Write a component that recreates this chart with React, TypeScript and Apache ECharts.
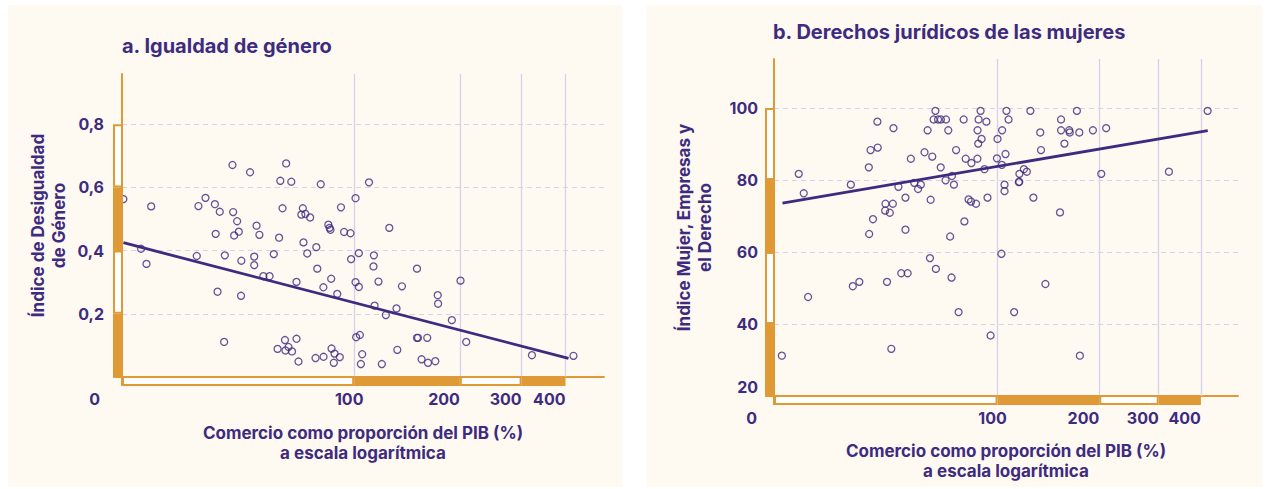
import React, { useEffect, useRef } from "react";
import * as echarts from "echarts";

const PURPLE = "#3D2B80";
const ORANGE = "#E09A35";
const CREAM = "#FEF9F1";
const GRIDC = "#D5D2EB";
const FONT = "Inter, 'Noto Sans', sans-serif";

const X_MIN = 21.8;
const X_MAX = 515;
const xTickValues = [100, 200, 300, 400];
const xTickLabels = ["100", "200", "300", "400"];
const leftYTicks = [0, 0.2, 0.4, 0.6, 0.8];
const rightYTicks = [20, 40, 60, 80, 100];
const leftYMax = 0.959;
const rightYMax = 113.6;

const leftTitle = "a. Igualdad de género";
const rightTitle = "b. Derechos jurídicos de las mujeres";
const leftYName = "Índice de Desigualdad\nde Género";
const rightYName = "Índice Mujer, Empresas y\nel Derecho";
const xName = "Comercio como proporción del PIB (%)\na escala logarítmica";
const originLabel = "0";

// [comercio % PIB, índice de desigualdad de género]
const leftPoints = [
  [22.0, 0.563], [26.4, 0.54], [24.7, 0.406], [25.6, 0.358], [45.0, 0.671],
  [50.5, 0.648], [64.0, 0.676], [61.6, 0.621], [66.2, 0.618], [80.3, 0.61],
  [37.7, 0.567], [36.0, 0.541], [40.1, 0.547], [41.4, 0.523], [45.2, 0.522],
  [46.4, 0.493], [40.3, 0.453], [45.5, 0.448], [46.9, 0.46], [52.7, 0.479],
  [53.7, 0.45], [61.1, 0.441], [62.5, 0.534], [71.4, 0.534], [70.7, 0.514],
  [72.6, 0.516], [74.9, 0.505], [91.7, 0.537], [100.9, 0.566], [84.4, 0.482],
  [85.1, 0.472], [85.6, 0.466], [93.6, 0.459], [97.6, 0.455], [71.7, 0.426],
  [78.0, 0.411], [35.6, 0.383], [42.8, 0.385], [47.7, 0.368], [51.9, 0.381],
  [51.9, 0.354], [59.0, 0.389], [73.5, 0.391], [98.0, 0.373], [103.1, 0.392],
  [55.1, 0.319], [57.4, 0.319], [68.5, 0.301], [78.5, 0.343], [86.0, 0.311],
  [81.7, 0.284], [89.5, 0.263], [100.9, 0.3], [103.1, 0.285], [40.8, 0.27],
  [47.6, 0.257], [42.6, 0.111], [63.5, 0.117], [68.5, 0.121], [60.5, 0.089],
  [63.7, 0.084], [65.0, 0.095], [66.5, 0.081], [69.4, 0.049], [77.6, 0.06],
  [81.8, 0.064], [86.2, 0.09], [87.9, 0.074], [91.0, 0.063], [87.5, 0.045],
  [101.3, 0.126], [103.8, 0.133], [105.4, 0.072], [104.5, 0.041], [110.2, 0.616],
  [125.9, 0.472], [113.8, 0.385], [113.5, 0.35], [151.0, 0.343], [117.3, 0.302],
  [136.8, 0.287], [200.9, 0.305], [173.0, 0.259], [173.4, 0.232], [114.3, 0.226],
  [132.0, 0.217], [123.1, 0.196], [189.8, 0.18], [151.0, 0.124], [152.0, 0.124],
  [161.5, 0.124], [208.6, 0.111], [132.7, 0.086], [119.9, 0.041], [155.6, 0.056],
  [162.3, 0.045], [170.3, 0.05], [321, 0.069], [421.5, 0.067],
];

// [comercio % PIB, índice Mujer, Empresas y el Derecho]
const rightPoints = [
  [23.0, 31.2], [25.8, 81.7], [26.7, 76.3], [27.5, 47.5], [36.8, 78.7],
  [37.3, 50.5], [39.0, 51.7], [41.6, 83.5], [42.1, 88.3], [44.2, 89.0],
  [44.1, 96.2], [41.7, 65.0], [42.8, 69.1], [46.6, 73.4], [46.5, 71.5],
  [48.0, 70.9], [49.0, 73.4], [47.1, 51.7], [48.5, 33.1], [49.2, 94.4],
  [50.9, 78.1], [53.4, 75.1], [53.4, 66.2], [51.9, 54.1], [54.2, 54.1],
  [55.4, 85.9], [56.7, 79.2], [58.2, 77.5], [59.3, 78.7], [60.8, 87.7],
  [62.1, 93.8], [64.1, 86.5], [63.4, 74.5], [63.1, 58.3], [65.7, 55.3],
  [65.5, 99.2], [64.7, 96.8], [66.7, 96.8], [68.0, 96.8], [70.4, 96.8],
  [67.9, 83.5], [70.2, 79.9], [71.5, 93.8], [73.3, 81.1], [74.3, 78.7],
  [72.4, 64.3], [73.1, 52.9], [76.7, 43.3], [75.4, 88.3], [79.4, 96.8],
  [80.5, 85.9], [83.7, 84.7], [87.2, 85.9], [82.1, 74.6], [83.5, 74.0],
  [86.4, 73.4], [79.8, 68.5], [89.1, 99.2], [87.9, 96.8], [92.7, 96.2],
  [87.3, 93.8], [89.7, 91.4], [87.7, 90.1], [91.5, 83.0], [93.4, 75.1],
  [95.4, 36.8], [99.6, 86.0], [100, 91.4], [102.7, 59.5], [103.2, 93.8],
  [106.3, 99.2], [107.8, 96.8], [105.6, 87.2], [103.0, 84.2], [104.9, 78.7],
  [104.9, 76.9], [125.1, 99.2], [133.8, 93.2], [134.5, 88.3], [116.1, 81.7],
  [119.7, 83.0], [122.1, 82.3], [115.6, 79.4], [116.0, 79.5], [127.7, 75.1],
  [153.1, 71.0], [112.0, 43.3], [138.6, 51.1], [175.3, 31.2], [154.2, 96.8],
  [154.2, 93.8], [157.8, 90.1], [163.0, 93.8], [163.6, 93.2], [171.8, 99.2],
  [174.6, 93.2], [191.6, 93.8], [209.7, 94.4], [202.8, 81.7], [321.6, 82.3],
  [418.7, 99.2],
];

// fitted trend lines (end points)
const leftTrend = [[22, 0.425], [408, 0.059]];
const rightTrend = [[23.1, 73.6], [419, 93.7]];

export default function App() {
  const ref = useRef<HTMLDivElement>(null);

  useEffect(() => {
    document.body.style.margin = "0";
    const chart = echarts.init(ref.current!, null, { renderer: "svg" });

    const panels = [
      {
        title: leftTitle, titleLeft: 122, titleTop: 36,
        grid: { left: 122, top: 74, width: 482, height: 303 },
        yTicks: leftYTicks, yMax: leftYMax, yName: leftYName, yNameGap: 53,
        labelMargin: 18, zeroDx: 22, xNameGap: 46,
        points: leftPoints, trend: leftTrend,
        fmt: (v: number) => v.toFixed(1).replace(".", ","),
      },
      {
        title: rightTitle, titleLeft: 773, titleTop: 22,
        grid: { left: 774, top: 59, width: 464, height: 337 },
        yTicks: rightYTicks, yMax: rightYMax, yName: rightYName, yNameGap: 59,
        labelMargin: 16, zeroDx: 17, xNameGap: 45,
        points: rightPoints, trend: rightTrend,
        fmt: (v: number) => (v === 20 ? "{low|20}" : String(v)),
      },
    ];

    const txt = (size: number, weight: number = 700) => ({
      color: PURPLE, fontSize: size, fontWeight: weight, fontFamily: FONT,
    });

    const option: any = {
      animation: false,
      textStyle: { fontFamily: FONT },
      title: panels.map((p) => ({
        text: p.title, left: p.titleLeft, top: p.titleTop, padding: 0,
        textStyle: txt(20),
      })),
      grid: panels.map((p) => ({ ...p.grid, containLabel: false })),
      xAxis: panels.map((p, i) => ({
        type: "log", logBase: 10, gridIndex: i, min: X_MIN, max: X_MAX,
        axisLine: { show: true, onZero: false, lineStyle: { color: ORANGE, width: 2 } },
        axisTick: { show: false }, axisLabel: { show: false }, splitLine: { show: false },
        name: xName, nameLocation: "middle", nameGap: p.xNameGap,
        nameTextStyle: { ...txt(17), lineHeight: 20 },
      })),
      yAxis: panels.map((p, i) => ({
        type: "value", gridIndex: i, min: p.yTicks[0], max: p.yMax,
        interval: p.yTicks[1] - p.yTicks[0],
        axisLine: { show: true, onZero: false, lineStyle: { color: ORANGE, width: 2 } },
        axisTick: { show: false },
        axisLabel: {
          ...txt(16), margin: p.labelMargin, showMinLabel: i === 1, showMaxLabel: false,
          formatter: p.fmt,
          rich: { low: { ...txt(16), padding: [0, 0, 18, 0] } },
        },
        splitLine: {
          show: true,
          lineStyle: {
            color: ["rgba(0,0,0,0)", GRIDC, GRIDC, GRIDC, GRIDC, "rgba(0,0,0,0)"],
            type: [5, 4], width: 1.2,
          },
        },
        name: p.yName, nameLocation: "middle", nameRotate: 90, nameGap: p.yNameGap,
        nameTextStyle: { ...txt(17), lineHeight: 21 },
      })),
      series: panels.flatMap((p, i) => [
        {
          type: "scatter", xAxisIndex: i, yAxisIndex: i, data: p.points,
          symbol: "circle", symbolSize: 7, z: 3,
          itemStyle: { color: "rgba(0,0,0,0)", borderColor: PURPLE, borderWidth: 1.3 },
          markLine: {
            silent: true, symbol: ["none", "none"], animation: false, z: 1,
            lineStyle: { color: GRIDC, width: 1.3, type: "solid" },
            data: xTickValues.map((v, k) => ({
              xAxis: v, name: xTickLabels[k],
              label: k === 0
                ? { align: "center", padding: [0, 10, 0, 0] }
                : { align: "right", padding: 0 },
            })),
            label: {
              show: true, position: "start", distance: 22, formatter: "{b}",
              verticalAlign: "middle", ...txt(16),
            },
          },
        },
        {
          type: "line", xAxisIndex: i, yAxisIndex: i, data: p.trend, symbol: "none", z: 4,
          lineStyle: { color: PURPLE, width: 2.8 },
        },
      ]),
    };
    chart.setOption(option);

    const g: any[] = [
      { type: "rect", z: -10, silent: true, shape: { x: 8, y: 5, width: 614, height: 482 }, style: { fill: CREAM } },
      { type: "rect", z: -10, silent: true, shape: { x: 647, y: 5, width: 615, height: 482 }, style: { fill: CREAM } },
    ];
    panels.forEach((p, gi) => {
      const toPx = (x: number, y: number) =>
        chart.convertToPixel({ gridIndex: gi } as any, [x, y]) as unknown as number[];
      const [ax, ay] = toPx(X_MIN, p.yTicks[0]);
      // y ruler
      for (let i = 0; i < p.yTicks.length - 1; i++) {
        const y0 = toPx(X_MIN, p.yTicks[i])[1];
        const y1 = toPx(X_MIN, p.yTicks[i + 1])[1];
        if (i % 2 === 0) {
          g.push({ type: "rect", z: 5, silent: true, shape: { x: ax - 9, y: y1, width: 10, height: y0 - y1 + 1 }, style: { fill: ORANGE } });
        } else {
          g.push({ type: "rect", z: 5, silent: true, shape: { x: ax - 8, y: y1 + 1, width: 8, height: y0 - y1 - 2 }, style: { fill: "#FFFFFF", stroke: ORANGE, lineWidth: 2 } });
        }
      }
      // x ruler
      const bounds = [X_MIN, ...xTickValues];
      for (let i = 0; i < bounds.length - 1; i++) {
        const x0 = toPx(bounds[i], p.yTicks[0])[0];
        const x1 = toPx(bounds[i + 1], p.yTicks[0])[0];
        if (i % 2 === 1) {
          g.push({ type: "rect", z: 5, silent: true, shape: { x: x0, y: ay - 1, width: x1 - x0, height: 10 }, style: { fill: ORANGE } });
        } else {
          g.push({ type: "rect", z: 5, silent: true, shape: { x: x0 + 1, y: ay, width: x1 - x0 - 2, height: 8 }, style: { fill: "#FFFFFF", stroke: ORANGE, lineWidth: 2 } });
        }
      }
      g.push({ type: "line", z: 5, silent: true, shape: { x1: ax - 9, y1: ay, x2: ax, y2: ay }, style: { stroke: ORANGE, lineWidth: 2 } });
      g.push({ type: "line", z: 5, silent: true, shape: { x1: ax, y1: ay, x2: ax, y2: ay + 9 }, style: { stroke: ORANGE, lineWidth: 2 } });
      g.push({
        type: "text", z: 5, silent: true, x: ax - p.zeroDx, y: ay + 22,
        style: { text: originLabel, align: "right", verticalAlign: "middle", fill: PURPLE, fontSize: 16, fontWeight: 700, fontFamily: FONT },
      });
    });
    chart.setOption({ graphic: g });

    return () => chart.dispose();
  }, []);

  return <div ref={ref} style={{ width: 1266, height: 489 }} />;
}
